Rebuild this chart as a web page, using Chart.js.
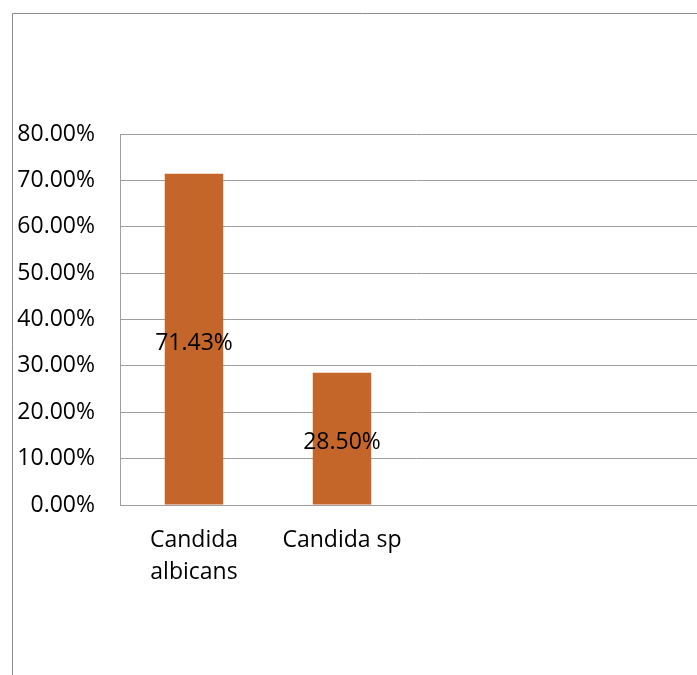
<!DOCTYPE html>
<html lang="en">
<head>
    <meta charset="UTF-8">
    <title>Candida</title>
    <script src="https://cdn.jsdelivr.net/npm/chart.js"></script>
    <style>
        html, body {
            margin: 0;
            padding: 0;
            background: #ffffff;
            overflow: hidden;
        }
        .chart-box {
            position: relative;
            width: 712px;
            height: 675px;
        }
    </style>
</head>
<body>
    <div class="chart-box">
        <canvas id="candidaChart"></canvas>
    </div>

    <script>
        // data
        const categories = [['Candida', 'albicans'], 'Candida sp', '', ''];
        const percentValues = [71.43, 28.50, null, null];
        const valueLabels = ['71.43%', '28.50%', '', ''];
        const yTicks = [0, 10, 20, 30, 40, 50, 60, 70, 80];

        const FONT = "'Open Sans', sans-serif";

        // outer frame of the chart object (only left and top edges visible)
        const framePlugin = {
            id: 'frame',
            beforeDraw(chart) {
                const ctx = chart.ctx;
                ctx.save();
                ctx.strokeStyle = '#8c8c8c';
                ctx.lineWidth = 1;
                ctx.beginPath();
                ctx.moveTo(12.5, chart.height);
                ctx.lineTo(12.5, 13.5);
                ctx.lineTo(chart.width, 13.5);
                ctx.stroke();
                ctx.restore();
            }
        };

        // value labels in the middle of each bar
        const centerLabels = {
            id: 'centerLabels',
            afterDatasetsDraw(chart) {
                const ctx = chart.ctx;
                const meta = chart.getDatasetMeta(0);
                ctx.save();
                ctx.font = '23px ' + FONT;
                ctx.fillStyle = '#000000';
                ctx.textAlign = 'center';
                ctx.textBaseline = 'middle';
                meta.data.forEach((bar, i) => {
                    if (!valueLabels[i]) return;
                    ctx.fillText(valueLabels[i], bar.x, (bar.y + bar.base) / 2 + 4);
                });
                ctx.restore();
            }
        };

        new Chart(document.getElementById('candidaChart'), {
            type: 'bar',
            data: {
                labels: categories,
                datasets: [{
                    data: percentValues,
                    backgroundColor: '#c4662a',
                    borderWidth: 0,
                    categoryPercentage: 1,
                    barPercentage: 0.395
                }]
            },
            options: {
                responsive: true,
                maintainAspectRatio: false,
                animation: false,
                layout: {
                    padding: { top: 134, left: 0, right: 0, bottom: 0 }
                },
                plugins: {
                    legend: { display: false },
                    tooltip: { enabled: false }
                },
                scales: {
                    x: {
                        grid: { display: false, drawTicks: false },
                        border: { display: true, color: '#9e9e9e' },
                        ticks: {
                            color: '#000000',
                            font: { family: FONT, size: 23, lineHeight: 1.4 },
                            padding: 19,
                            maxRotation: 0,
                            autoSkip: false
                        },
                        afterFit(scale) { scale.height = 170; }
                    },
                    y: {
                        min: 0,
                        max: 80,
                        afterBuildTicks(scale) {
                            scale.ticks = yTicks.map(v => ({ value: v }));
                        },
                        grid: { color: '#9e9e9e', drawTicks: false },
                        border: { display: true, color: '#9e9e9e' },
                        ticks: {
                            color: '#000000',
                            font: { family: FONT, size: 23 },
                            padding: 25,
                            callback: v => v.toFixed(2) + '%'
                        },
                        afterFit(scale) { scale.width = 120; }
                    }
                }
            },
            plugins: [framePlugin, centerLabels]
        });
    </script>
</body>
</html>
